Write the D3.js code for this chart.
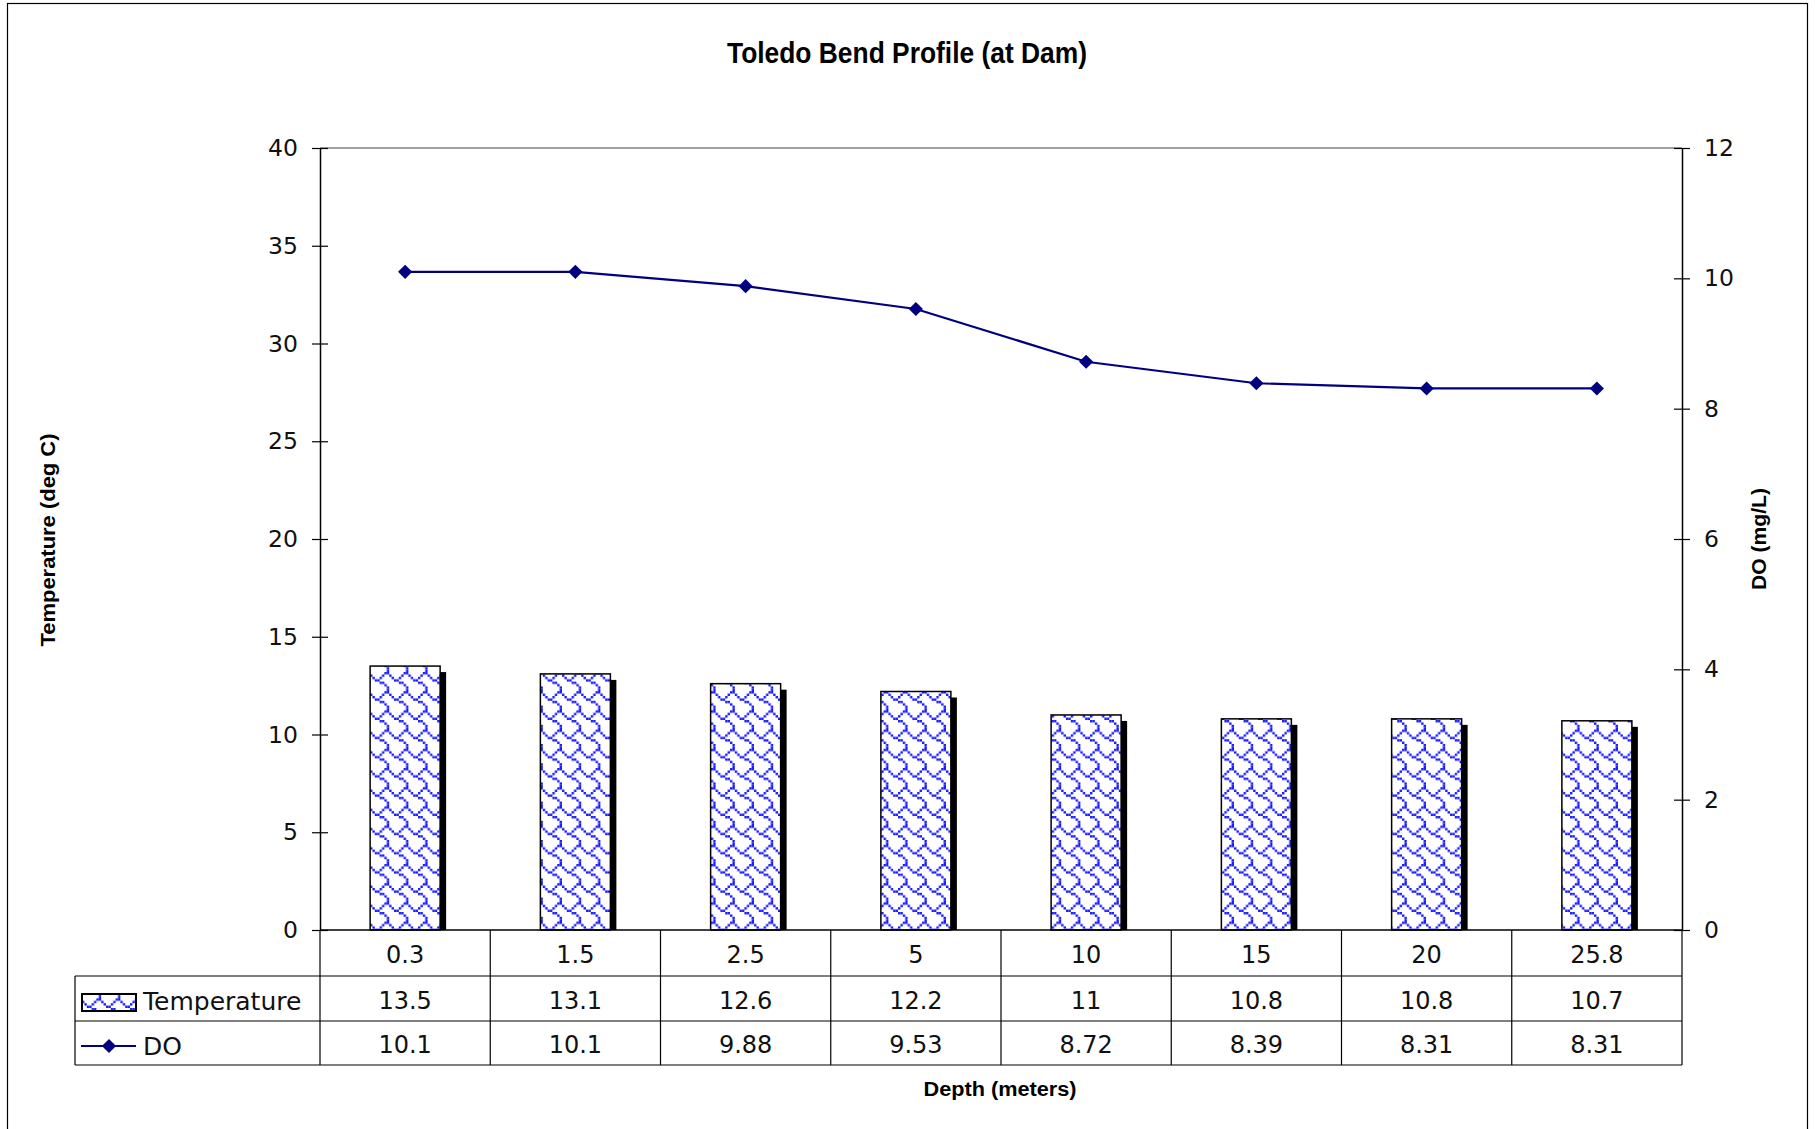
<!DOCTYPE html>
<html><head><meta charset="utf-8">
<script src="https://cdn.jsdelivr.net/npm/d3@7"></script>
<style>body{margin:0;background:#fff}svg{display:block}</style>
</head><body>
<script>
const depths = ["0.3","1.5","2.5","5","10","15","20","25.8"];
const temperature = [13.5,13.1,12.6,12.2,11,10.8,10.8,10.7];
const doValues = [10.1,10.1,9.88,9.53,8.72,8.39,8.31,8.31];
const leftTicks = [0,5,10,15,20,25,30,35,40];
const rightTicks = [0,2,4,6,8,10,12];

const W = 1815, H = 1129;
const svg = d3.select("body").append("svg").attr("width", W).attr("height", H);
const TXT = "DejaVu Sans, sans-serif";
const BOLD = "'Liberation Sans Narrow', 'Liberation Sans', Arial, sans-serif";

// shingle hatch pattern (8x8 bitmap, drawn scaled)
const hatchRows = [0x03,0x84,0x48,0x30,0x0C,0x02,0x01,0x01];
const PX = 2.4, TILE = 8*PX;
const defs = svg.append("defs");
const pat = defs.append("pattern").attr("id","shingle").attr("patternUnits","userSpaceOnUse")
  .attr("width",TILE).attr("height",TILE).attr("x",370).attr("y",0);
pat.append("rect").attr("width",TILE).attr("height",TILE).attr("fill","#fff");
const cells = [];
hatchRows.forEach((v,r)=>{ for(let c=0;c<8;c++){ if(v & (0x80>>c)) cells.push([c,r]); } });
pat.selectAll("rect.px").data(cells).join("rect").attr("class","px")
  .attr("x",d=>d[0]*PX).attr("y",d=>d[1]*PX).attr("width",PX).attr("height",PX).attr("fill","#1a1aff");

// outer frame
svg.append("rect").attr("x",7.5).attr("y",3.5).attr("width",1800).attr("height",1140)
  .attr("fill","none").attr("stroke","#000").attr("stroke-width",1.2);

const L = 320, R = 1682, T = 148, B = 930;
const x = d3.scaleBand().domain(depths).range([L,R]).padding(0);
const yT = d3.scaleLinear().domain([0,40]).range([B,T]);
const yD = d3.scaleLinear().domain([0,12]).range([B,T]);

// title
svg.append("text").attr("x",907).attr("y",63).attr("text-anchor","middle")
  .attr("font-family",BOLD).attr("font-weight","bold").attr("font-size",30)
  .attr("textLength",360).attr("lengthAdjust","spacingAndGlyphs")
  .text("Toledo Bend Profile (at Dam)");

// plot top border
svg.append("line").attr("x1",L).attr("x2",R).attr("y1",T).attr("y2",T).attr("stroke","#808080").attr("stroke-width",1.5);

// bars
const bw = 70;
const bars = svg.append("g");
bars.selectAll("rect.sh").data(temperature).join("rect")
  .attr("x",(d,i)=>x(depths[i])+x.bandwidth()/2-bw/2+6)
  .attr("y",d=>yT(d)+6).attr("width",bw).attr("height",d=>B-yT(d)-6).attr("fill","#000");
bars.selectAll("rect.b").data(temperature).join("rect")
  .attr("x",(d,i)=>x(depths[i])+x.bandwidth()/2-bw/2)
  .attr("y",d=>yT(d)).attr("width",bw).attr("height",d=>B-yT(d))
  .attr("fill","url(#shingle)").attr("stroke","#000").attr("stroke-width",1.5);

// axes
const axL = svg.append("g").attr("transform",`translate(${L},0)`)
  .call(d3.axisLeft(yT).tickValues(leftTicks).tickSize(0).tickPadding(22).tickFormat(d3.format("d")));
axL.select(".domain").attr("stroke","#000").attr("stroke-width",1.5);
axL.selectAll("text").attr("font-family",TXT).attr("font-size",23.5).attr("fill","#111");
axL.selectAll(".tick").append("line").attr("x1",-8).attr("x2",8).attr("stroke","#000").attr("stroke-width",1.2);

const axR = svg.append("g").attr("transform",`translate(${R},0)`)
  .call(d3.axisRight(yD).tickValues(rightTicks).tickSize(0).tickPadding(22).tickFormat(d3.format("d")));
axR.select(".domain").attr("stroke","#000").attr("stroke-width",1.5);
axR.selectAll("text").attr("font-family",TXT).attr("font-size",23.5).attr("fill","#111");
axR.selectAll(".tick").append("line").attr("x1",-8).attr("x2",8).attr("stroke","#000").attr("stroke-width",1.2);

// baseline
svg.append("line").attr("x1",L).attr("x2",R).attr("y1",B).attr("y2",B).attr("stroke","#000").attr("stroke-width",1.5);

// DO line
const cx = d => x(d)+x.bandwidth()/2;
svg.append("path").datum(doValues)
  .attr("d", d3.line().x((d,i)=>cx(depths[i])).y(d=>yD(d)))
  .attr("fill","none").attr("stroke","#000080").attr("stroke-width",2.2);
svg.append("g").selectAll("path").data(doValues).join("path")
  .attr("transform",(d,i)=>`translate(${cx(depths[i])},${yD(d)}) rotate(45)`)
  .attr("d","M-5,-5H5V5H-5Z").attr("fill","#000080");

// axis titles
svg.append("text").attr("transform","translate(55,540) rotate(-90)").attr("text-anchor","middle")
  .attr("font-family","'Liberation Sans', Arial, sans-serif").attr("font-weight","bold").attr("font-size",20)
  .attr("textLength",213).attr("lengthAdjust","spacingAndGlyphs").text("Temperature (deg C)");
svg.append("text").attr("transform","translate(1766,539) rotate(-90)").attr("text-anchor","middle")
  .attr("font-family","'Liberation Sans', Arial, sans-serif").attr("font-weight","bold").attr("font-size",20)
  .attr("textLength",102).attr("lengthAdjust","spacingAndGlyphs").text("DO (mg/L)");
svg.append("text").attr("x",1000).attr("y",1096).attr("text-anchor","middle")
  .attr("font-family","'Liberation Sans', Arial, sans-serif").attr("font-weight","bold").attr("font-size",20)
  .attr("textLength",153).attr("lengthAdjust","spacingAndGlyphs").text("Depth (meters)");

// data table
const r0 = B, r1 = 976, r2 = 1021, r3 = 1065, TL = 75;
const tg = svg.append("g").attr("stroke","#000").attr("stroke-width",1.2);
tg.append("line").attr("x1",TL).attr("x2",R).attr("y1",r1).attr("y2",r1);
tg.append("line").attr("x1",TL).attr("x2",R).attr("y1",r2).attr("y2",r2);
tg.append("line").attr("x1",TL).attr("x2",R).attr("y1",r3).attr("y2",r3);
tg.append("line").attr("x1",TL).attr("x2",TL).attr("y1",r1).attr("y2",r3);
const edges = depths.map(d=>x(d)).concat([R]);
tg.selectAll("line.v").data(edges).join("line").attr("class","v")
  .attr("x1",d=>d).attr("x2",d=>d).attr("y1",r0).attr("y2",r3);

const cell = (vals, yc) => svg.append("g").selectAll("text").data(vals).join("text")
  .attr("x",(d,i)=>cx(depths[i])).attr("y",yc).attr("text-anchor","middle").attr("dominant-baseline","central")
  .attr("font-family",TXT).attr("font-size",24).attr("fill","#111").text(d=>d);
cell(depths, (r0+r1)/2+2);
cell(temperature, (r1+r2)/2+2);
cell(doValues, (r2+r3)/2+2);

// legend keys
svg.append("rect").attr("x",82).attr("y",994).attr("width",54).attr("height",17)
  .attr("fill","url(#shingle)").attr("stroke","#000").attr("stroke-width",2);
svg.append("line").attr("x1",81).attr("x2",136).attr("y1",1046).attr("y2",1046).attr("stroke","#000080").attr("stroke-width",2.2);
svg.append("path").attr("transform","translate(109,1046) rotate(45)").attr("d","M-5,-5H5V5H-5Z").attr("fill","#000080");
svg.append("text").attr("x",143).attr("y",(r1+r2)/2+3).attr("dominant-baseline","central")
  .attr("font-family",TXT).attr("font-size",25).attr("fill","#111").text("Temperature");
svg.append("text").attr("x",143).attr("y",(r2+r3)/2+3).attr("dominant-baseline","central")
  .attr("font-family",TXT).attr("font-size",25).attr("fill","#111").text("DO");
</script>
</body></html>
